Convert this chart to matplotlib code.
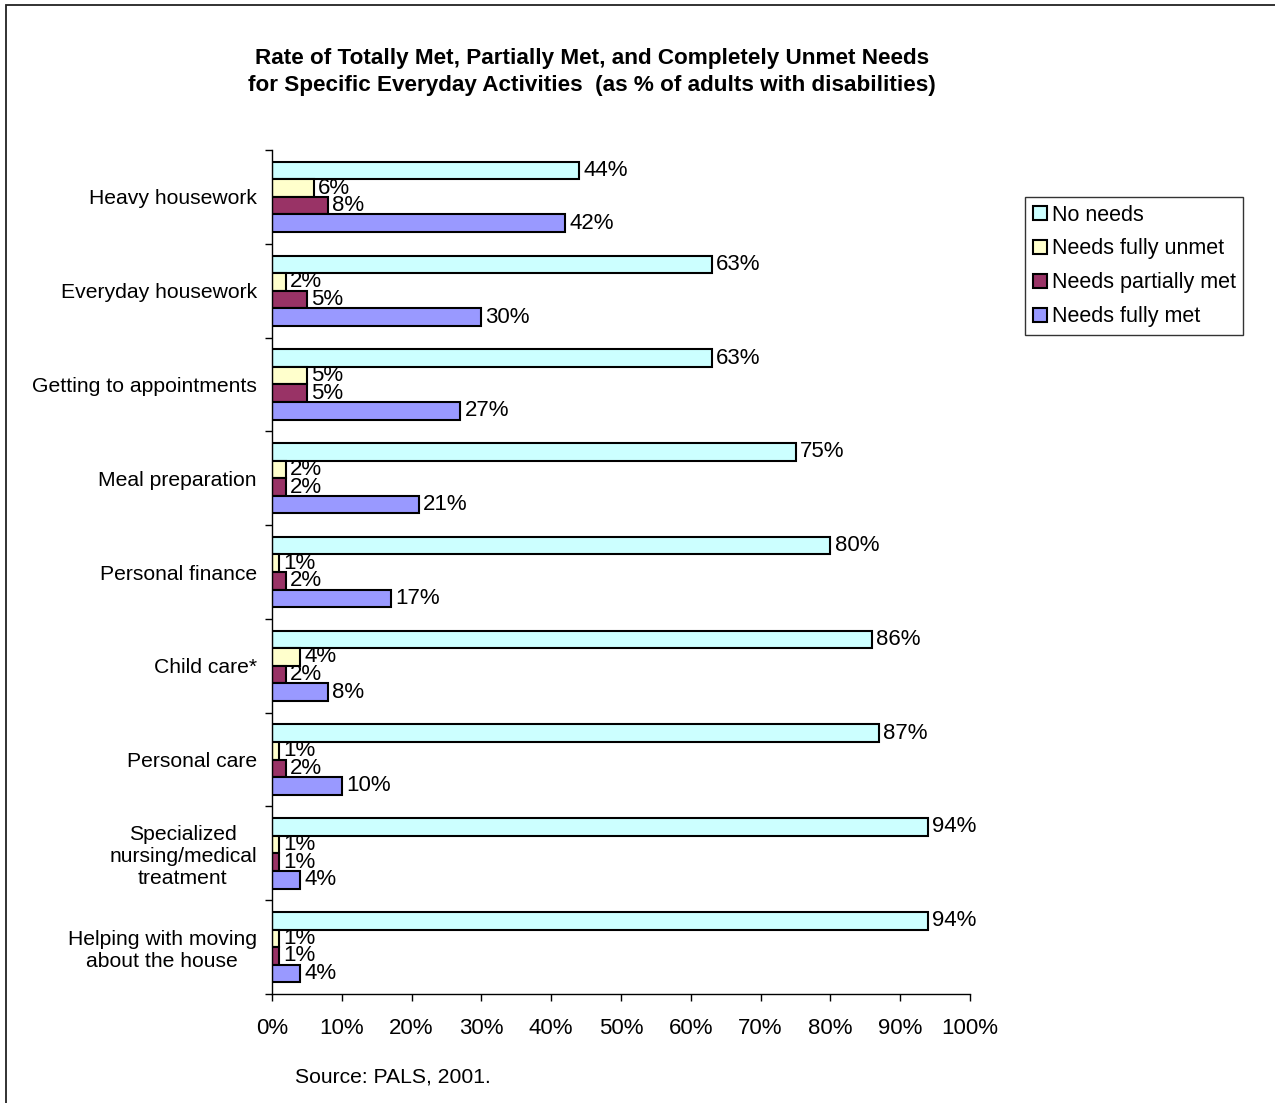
import matplotlib.pyplot as plt
import numpy as np
from matplotlib.patches import Rectangle
from matplotlib.ticker import FuncFormatter, FixedLocator

plt.rcParams["font.family"] = ["Liberation Sans", "DejaVu Sans"]

activities = [
    "Heavy housework",
    "Everyday housework",
    "Getting to appointments",
    "Meal preparation",
    "Personal finance",
    "Child care*",
    "Personal care",
    "Specialized\nnursing/medical\ntreatment",
    "Helping with moving\nabout the house",
]
series_names = ["No needs", "Needs fully unmet", "Needs partially met", "Needs fully met"]
no_needs = [44, 63, 63, 75, 80, 86, 87, 94, 94]
fully_unmet = [6, 2, 5, 2, 1, 4, 1, 1, 1]
partially_met = [8, 5, 5, 2, 2, 2, 2, 1, 1]
fully_met = [42, 30, 27, 21, 17, 8, 10, 4, 4]
colors = ["#CCFFFF", "#FFFFCC", "#993366", "#9999FF"]

fig = plt.figure(figsize=(12.75, 11.03), dpi=100)
W, H = 1275, 1103

# frame around the whole chart area
fig.patches.append(Rectangle((6 / W, -0.01), 1.05, 1 - 5 / H + 0.01,
                             transform=fig.transFigure, fill=False,
                             edgecolor="#222222", linewidth=1.3))

ax = fig.add_axes([272 / W, 1 - 994 / H, (970 - 272) / W, (994 - 150) / H])

y = np.arange(len(activities))
h = 0.1875
all_series = [no_needs, fully_unmet, partially_met, fully_met]
for k, (vals, name, col) in enumerate(zip(all_series, series_names, colors)):
    pos = y + (k - 1.5) * h
    ax.barh(pos, vals, height=h, color=col, edgecolor="black", linewidth=1.5, label=name)
    for yy, v in zip(pos, vals):
        ax.text(v + 0.6, yy, f"{v}%", va="center", ha="left", fontsize=16)

ax.set_xlim(0, 100)
ax.set_ylim(len(activities) - 0.5, -0.5)
ax.set_xticks(np.arange(0, 101, 10))
ax.xaxis.set_major_formatter(FuncFormatter(lambda v, p: f"{v:.0f}%"))
ax.tick_params(axis="x", labelsize=16, length=5, width=1, pad=12)

ax.set_yticks(y)
ax.set_yticklabels(activities, fontsize=15.2, multialignment="center")
ax.tick_params(axis="y", which="major", length=0, pad=11)
ax.yaxis.set_minor_locator(FixedLocator(np.arange(-0.5, len(activities), 1)))
ax.tick_params(axis="y", which="minor", length=5, width=1)

for s in ["top", "right"]:
    ax.spines[s].set_visible(False)
for s in ["left", "bottom"]:
    ax.spines[s].set_linewidth(1)

fig.text(592 / W, 1 - 72 / H,
         "Rate of Totally Met, Partially Met, and Completely Unmet Needs\n"
         "for Specific Everyday Activities  (as % of adults with disabilities)",
         ha="center", va="center", fontsize=16.2, fontweight="bold", linespacing=1.4)

fig.text(295 / W, 1 - 1077 / H, "Source: PALS, 2001.", ha="left", va="center", fontsize=15.2)

leg = fig.legend(loc="upper left", bbox_to_anchor=(1025 / W, 1 - 197 / H),
                 fontsize=15.5, frameon=True, fancybox=False, edgecolor="black",
                 handlelength=0.65, handleheight=0.65, handletextpad=0.25,
                 borderpad=0.35, labelspacing=0.6, borderaxespad=0)
leg.get_frame().set_linewidth(1)

fig.savefig("out.png", dpi=100)
